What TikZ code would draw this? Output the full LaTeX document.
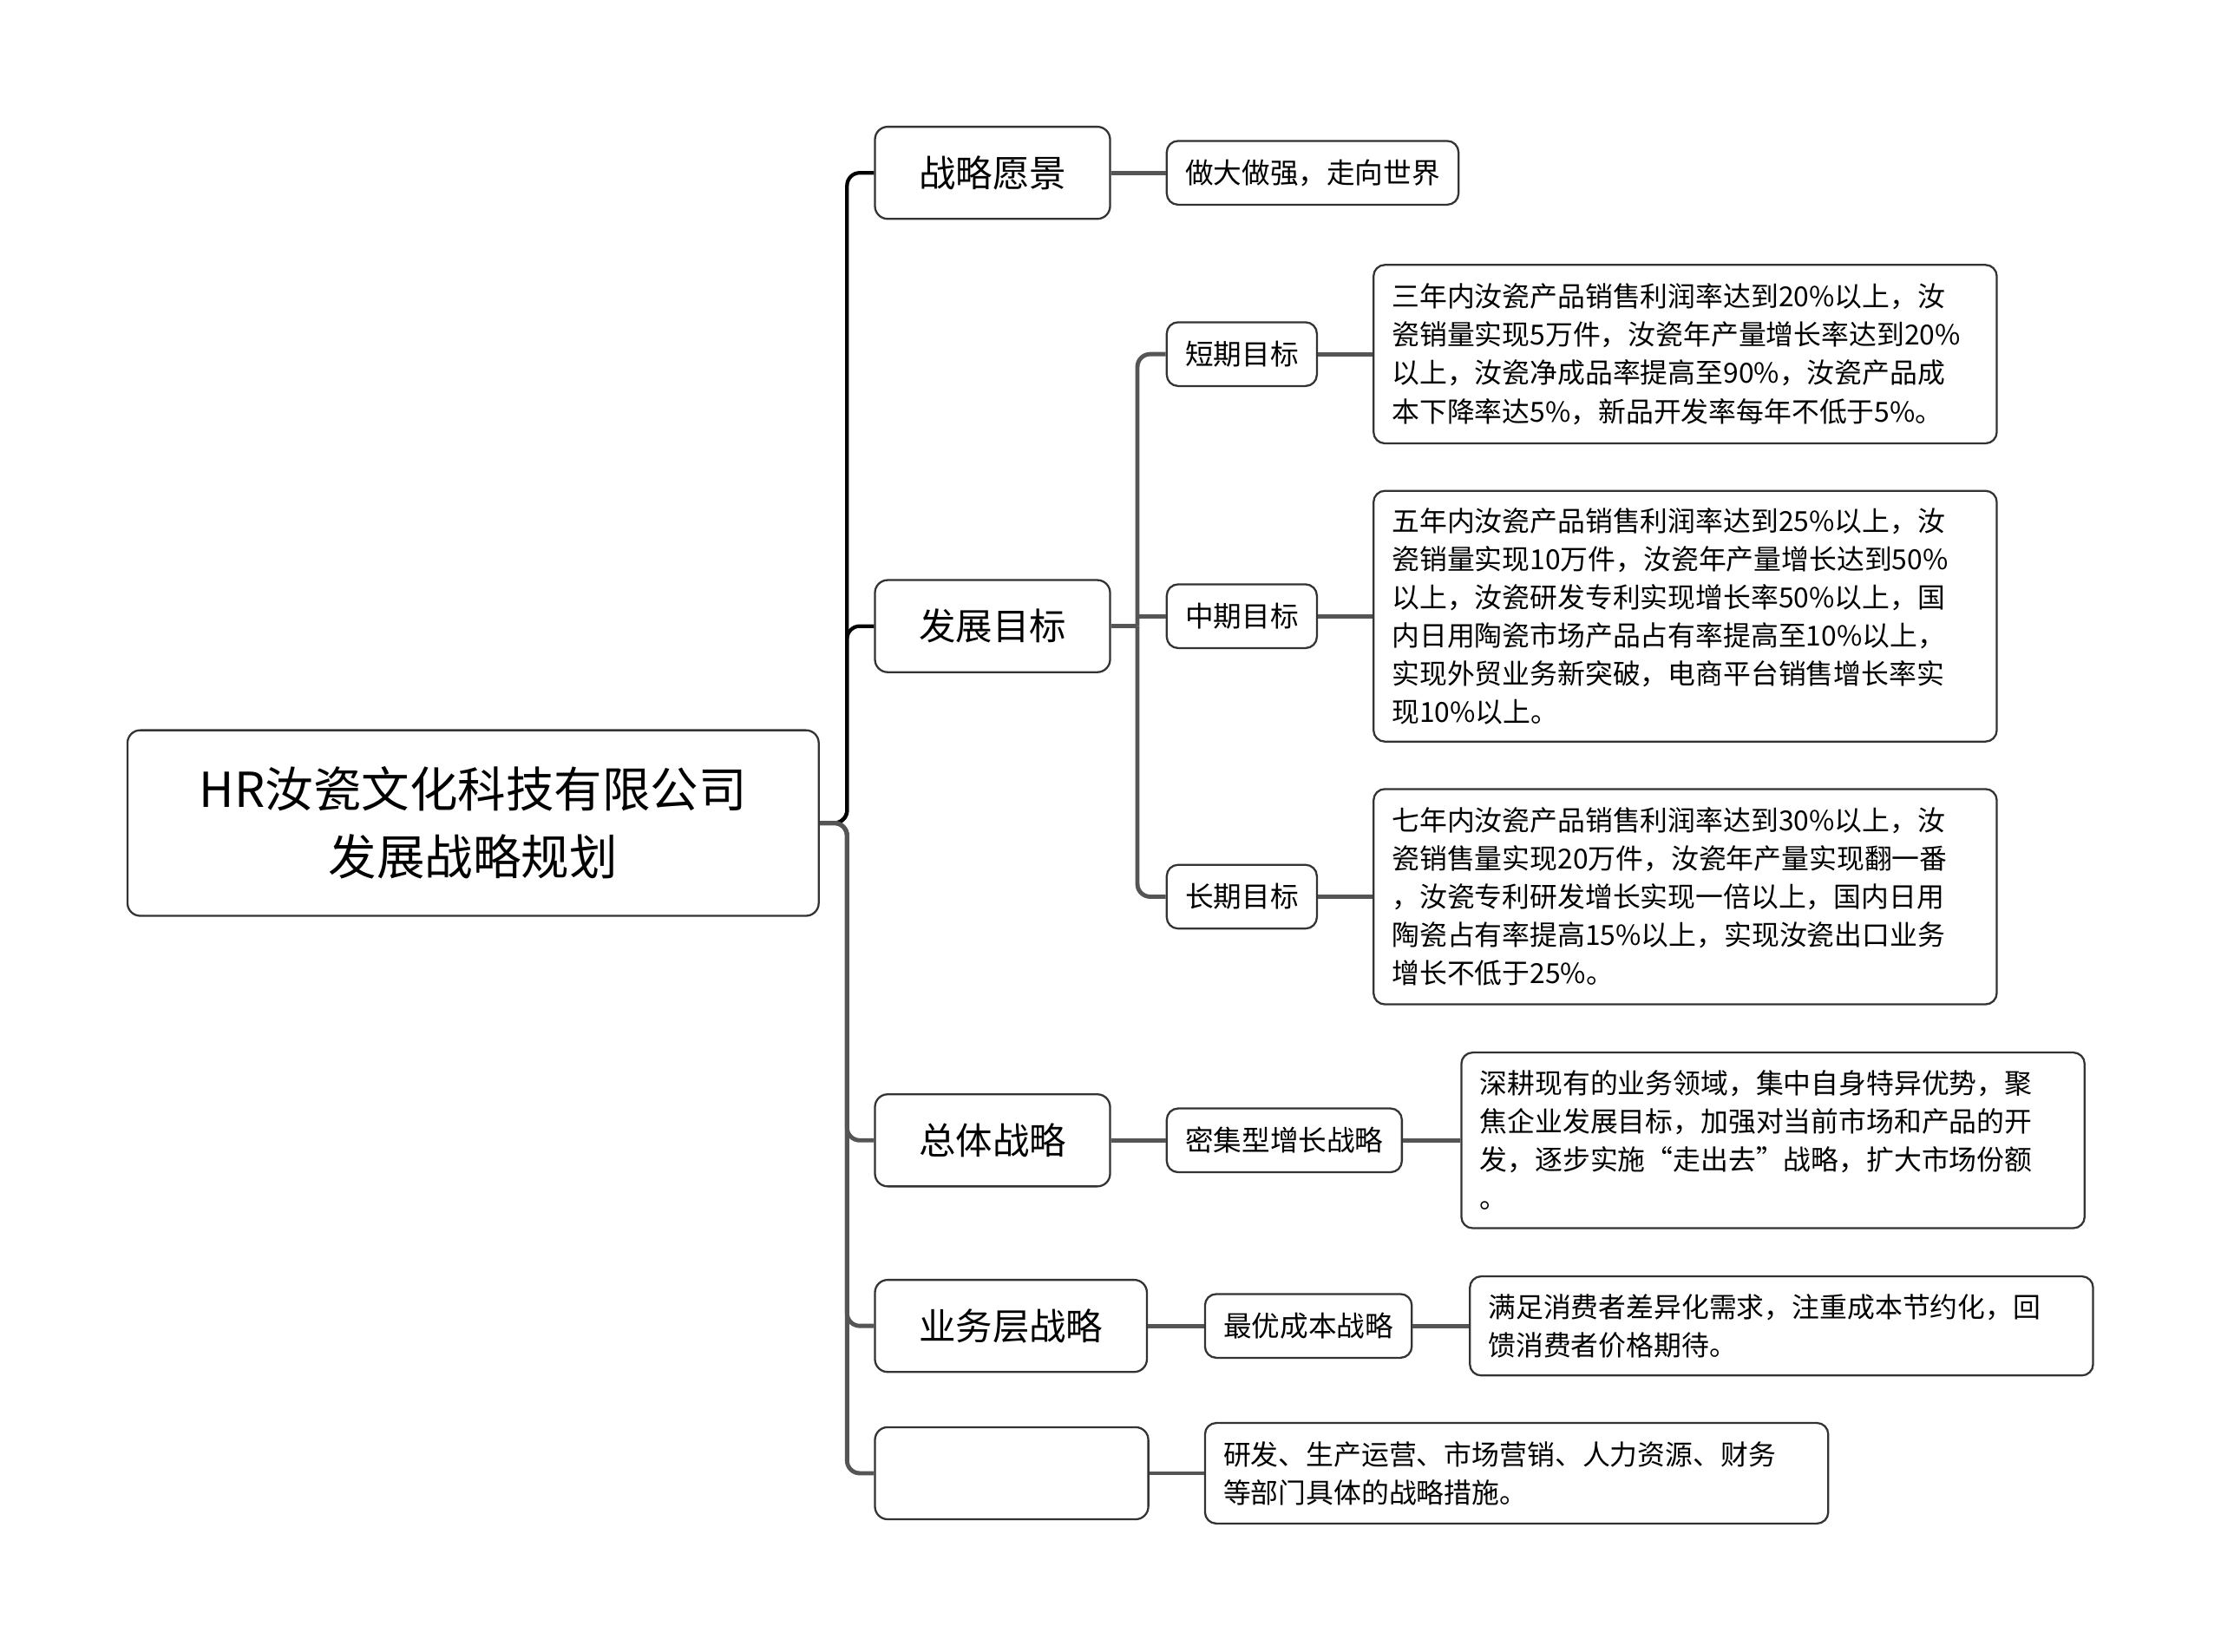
\documentclass[tikz,border=0pt]{standalone}
\usepackage{fontspec}
\setmainfont{Noto Sans CJK SC}
\usepackage{tikz}
\usetikzlibrary{positioning}
\definecolor{edge}{HTML}{333333}
\definecolor{link}{HTML}{555555}

\begin{document}
\begin{tikzpicture}[x=1pt, y=-1pt,
  root/.style={draw=edge, line width=1.4pt, rounded corners=9pt, minimum width=488pt, minimum height=131pt, align=center, font=\fontsize{34}{48}\selectfont},
  top/.style={draw=edge, line width=1.4pt, rounded corners=9pt, anchor=west, minimum height=65pt, inner xsep=31pt, font=\fontsize{26}{30}\selectfont},
  sub/.style={draw=edge, line width=1.4pt, rounded corners=8pt, anchor=west, minimum height=45pt, inner xsep=13pt, font=\fontsize{20}{24}\selectfont},
  note/.style={draw=edge, line width=1.4pt, rounded corners=8pt, anchor=west, text width=414pt, inner xsep=13pt, align=left, font=\fontsize{19.5}{27}\selectfont},
  dark/.style={line width=2.6pt, black, rounded corners=9pt},
  wire/.style={line width=3pt, link, rounded corners=9pt}]
  \useasboundingbox (0,0) rectangle (1568,1166);
  \node[root] (R) at (334,581) {HR汝瓷文化科技有限公司\\发展战略规划};
  \coordinate (T) at (598,581);
  \node[top] (A) at (617,122) {战略愿景};
  \node[top] (B) at (617,442) {发展目标};
  \node[top] (C) at (617,805) {总体战略};
  \node[top] (D) at (617,936) {业务层战略};
  \node[top, minimum width=193pt] (E) at (617,1040) {};
  \node[sub] (A1) at (823,122) {做大做强，走向世界};
  \node[sub] (B1) at (823,250) {短期目标};
  \node[sub] (B2) at (823,435) {中期目标};
  \node[sub] (B3) at (823,633) {长期目标};
  \node[sub] (C1) at (823,805) {密集型增长战略};
  \node[sub] (D1) at (850,936) {最优成本战略};
  \node[note, minimum height=71pt] (E1) at (850,1040) {研发、生产运营、市场营销、人力资源、财务\\等部门具体的战略措施。};
  \node[note, minimum height=126pt] (B1n) at (969,250) {三年内汝瓷产品销售利润率达到20\%以上，汝\\瓷销量实现5万件，汝瓷年产量增长率达到20\%\\以上，汝瓷净成品率提高至90\%，汝瓷产品成\\本下降率达5\%，新品开发率每年不低于5\%。};
  \node[note, minimum height=177pt] (B2n) at (969,435) {五年内汝瓷产品销售利润率达到25\%以上，汝\\瓷销量实现10万件，汝瓷年产量增长达到50\%\\以上，汝瓷研发专利实现增长率50\%以上，国\\内日用陶瓷市场产品占有率提高至10\%以上，\\实现外贸业务新突破，电商平台销售增长率实\\现10\%以上。};
  \node[note, minimum height=152pt] (B3n) at (969,633) {七年内汝瓷产品销售利润率达到30\%以上，汝\\瓷销售量实现20万件，汝瓷年产量实现翻一番\\，汝瓷专利研发增长实现一倍以上，国内日用\\陶瓷占有率提高15\%以上，实现汝瓷出口业务\\增长不低于25\%。};
  \node[note, minimum height=124pt] (C1n) at (1031,805) {深耕现有的业务领域，集中自身特异优势，聚\\焦企业发展目标，加强对当前市场和产品的开\\发，逐步实施“走出去”战略，扩大市场份额\\。};
  \node[note, minimum height=70pt] (D1n) at (1037,936) {满足消费者差异化需求，注重成本节约化，回\\馈消费者价格期待。};
  \foreach \n in {A,B}{\draw[dark] (R.east) -- (T) |- (\n.west);}
  \foreach \n in {C,D,E}{\draw[wire] (R.east) -- (T) |- (\n.west);}
  \coordinate (F) at (803,442);
  \draw[wire] (B.east) -- (F);
  \foreach \n in {B1,B3}{\draw[wire] (F) |- (\n.west);}
  \draw[wire] (F |- B2.west) -- (B2.west);
  \draw[wire] (A.east) -- (A1.west);
  \draw[wire] (B1.east) -- (B1n.west);
  \draw[wire] (B2.east) -- (B2n.west);
  \draw[wire] (B3.east) -- (B3n.west);
  \draw[wire] (C.east) -- (C1.west);
  \draw[wire] (C1.east) -- (C1n.west);
  \draw[wire] (D.east) -- (D1.west);
  \draw[wire] (D1.east) -- (D1n.west);
  \draw[wire] (E.east) -- (E1.west);
\end{tikzpicture}
\end{document}
